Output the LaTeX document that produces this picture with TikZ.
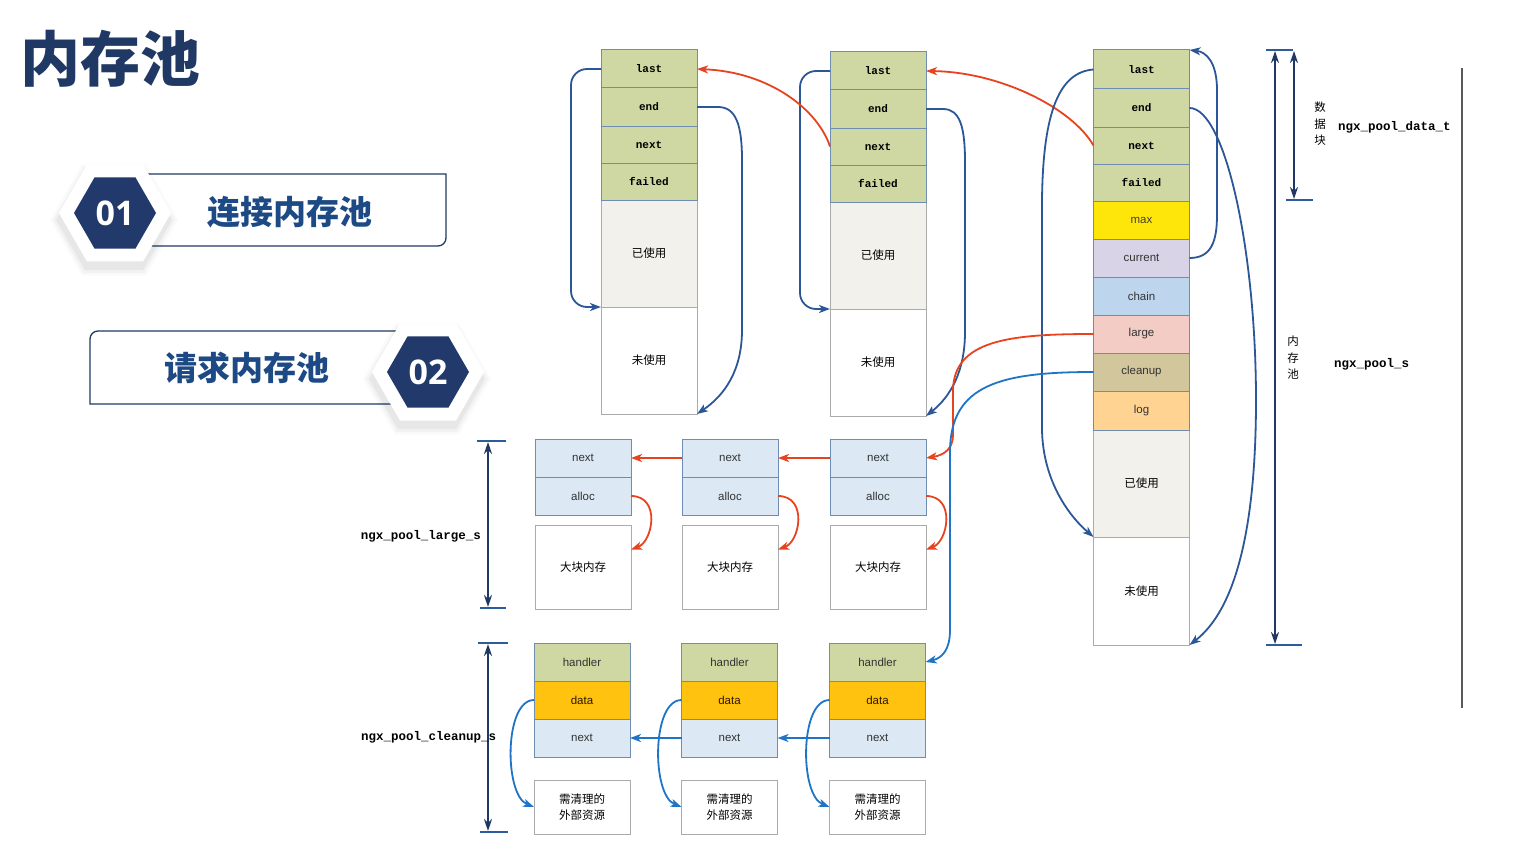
\documentclass[tikz,border=0pt]{standalone}
\usepackage{fontspec}
\setmainfont{Liberation Sans}
\newfontfamily\cjk{Noto Sans CJK SC}
\newfontfamily\monof{Liberation Mono}
\newfontfamily\numf{Open Sans}
\usetikzlibrary{arrows.meta,shapes.geometric}
\definecolor{navy}{HTML}{1F3864}
\definecolor{badgetext}{HTML}{1D4A85}
\definecolor{hexnavy}{HTML}{223A6B}
\definecolor{hdr}{HTML}{CFD8A2}
\definecolor{usedc}{HTML}{F3F1EB}
\definecolor{cellline}{HTML}{6F8DB0}
\definecolor{grayline}{HTML}{ABABAB}
\definecolor{maxc}{HTML}{FFE60A}
\definecolor{curc}{HTML}{D9D3E8}
\definecolor{chainc}{HTML}{BDD6EE}
\definecolor{largec}{HTML}{F3CCC6}
\definecolor{cleanc}{HTML}{D2C79C}
\definecolor{logc}{HTML}{FFD493}
\definecolor{lblue}{HTML}{DCE9F5}
\definecolor{datac}{HTML}{FFC20E}
\definecolor{arrblue}{HTML}{2C5797}
\definecolor{arrred}{HTML}{E8431F}
\definecolor{arrbright}{HTML}{1F74C6}
\definecolor{dimc}{HTML}{1F3864}
\definecolor{tickc}{HTML}{2E5B9A}
\definecolor{txt}{HTML}{333333}
\newcommand\monolbl{\monof\bfseries\fontsize{11}{12}\selectfont}
\newcommand\sanslbl{\fontsize{11.5}{13}\selectfont}
\newcommand\cjklbl{\cjk\fontsize{11.5}{16}\selectfont}
\tikzset{
  basecell/.style={line width=1pt, minimum width=96pt, inner sep=0pt, outer sep=0pt, anchor=north},
  hcell/.style={basecell, draw=cellline, fill=hdr, font=\monolbl},
  scell/.style={basecell, draw=cellline, font=\sanslbl, text=txt},
  ucell/.style={basecell, draw=grayline, fill=usedc, font=\cjklbl},
  fcell/.style={basecell, draw=grayline, fill=white, font=\cjklbl, align=center},
  tip/.style={-{Stealth[length=11pt,width=8pt,inset=3pt]}},
  barrow/.style={arrblue, line width=1.8pt, tip},
  rarrow/.style={arrred, line width=1.8pt, tip},
  carrow/.style={arrbright, line width=1.8pt, tip},
  dimarrow/.style={dimc, line width=2.2pt, {Stealth[length=12pt,width=8pt]}-{Stealth[length=12pt,width=8pt]}},
  tick/.style={tickc, line width=2.2pt},
  dimlbl/.style={font=\monof\bfseries\fontsize{12.5}{13}\selectfont, inner sep=0pt},
  vlbl/.style={font=\cjk\fontsize{11.5}{16.5}\selectfont, align=center, inner sep=0pt},
  hexo/.style={regular polygon, regular polygon sides=6, minimum size=112pt, fill=white, inner sep=0pt, outer sep=0pt},
  hexi/.style={regular polygon, regular polygon sides=6, minimum size=82pt, fill=hexnavy, text=white, inner sep=0pt, outer sep=0pt, font=\numf\bfseries\fontsize{34}{34}\selectfont},
  badgeline/.style={navy, line width=1.3pt},
  badgetxt/.style={text=badgetext, font=\cjk\bfseries\fontsize{33}{33}\selectfont, inner sep=0pt}
}
\begin{document}
\begin{tikzpicture}[x=1pt,y=-1pt]
\fill[white] (0,0) rectangle (1532,859);
\useasboundingbox (0,0) rectangle (1532,859);

% ---------- title ----------
\node[text=navy, font=\cjk\bfseries\fontsize{60}{60}\selectfont, inner sep=0pt] (title) at (110,59) {内存池};

% ---------- badge 01 ----------
\fill[white] (140,174) rectangle (446,246);
\draw[badgeline] (140,174) -- (446,174) -- (446,238) arc[start angle=0,end angle=90,radius=8] -- (140,246);
\node[badgetxt] (b1txt) at (290,212) {连接内存池};
\foreach \r/\o in {64/0.02,61/0.03,58/0.045} {
  \fill[black,opacity=\o] (114,220) +(0:\r) -- +(60:\r) -- +(120:\r) -- +(180:\r) -- +(240:\r) -- +(300:\r) -- cycle;
}
\node[hexo] (hex1o) at (115,213) {};
\node[hexi] (hex1i) at (115,213) {01};

% ---------- badge 02 ----------
\fill[white] (90,331) rectangle (410,404);
\draw[badgeline] (410,331) -- (98,331) arc[start angle=270,end angle=180,radius=8] -- (90,404) -- (410,404);
\node[badgetxt] (b2txt) at (247,368) {请求内存池};
\foreach \r/\o in {64/0.02,61/0.03,58/0.045} {
  \fill[black,opacity=\o] (427,379) +(0:\r) -- +(60:\r) -- +(120:\r) -- +(180:\r) -- +(240:\r) -- +(300:\r) -- cycle;
}
\node[hexo] (hex2o) at (428,372) {};
\node[hexi] (hex2i) at (428,372) {02};

% ---------- block 1 ----------
\node[ucell, minimum height=107pt] (b1used) at (649,200) {已使用};
\node[fcell, minimum height=107pt] (b1free) at (649,307) {未使用};
\node[hcell, minimum height=38pt] (b1last) at (649,50) {last};
\node[hcell, minimum height=38pt] (b1end) at (649,88) {end};
\node[hcell, minimum height=37pt] (b1next) at (649,126) {next};
\node[hcell, minimum height=37pt] (b1failed) at (649,163) {failed};

% ---------- block 2 ----------
\node[ucell, minimum height=107pt] (b2used) at (878,202) {已使用};
\node[fcell, minimum height=107pt] (b2free) at (878,309) {未使用};
\node[hcell, minimum height=38pt] (b2last) at (878,52) {last};
\node[hcell, minimum height=38pt] (b2end) at (878,90) {end};
\node[hcell, minimum height=37pt] (b2next) at (878,128) {next};
\node[hcell, minimum height=37pt] (b2failed) at (878,165) {failed};

% ---------- block 3 ----------
\node[ucell, minimum height=107pt] (b3used) at (1141.5,430) {已使用};
\node[fcell, minimum height=108pt] (b3free) at (1141.5,537) {未使用};
\node[hcell, minimum height=39pt] (b3last) at (1141.5,50) {last};
\node[hcell, minimum height=38pt] (b3end) at (1141.5,89) {end};
\node[hcell, minimum height=37pt] (b3next) at (1141.5,127) {next};
\node[hcell, minimum height=37pt] (b3failed) at (1141.5,164) {failed};
\node[scell, fill=maxc, minimum height=38pt, text=black!75] (b3max) at (1141.5,201) {max};
\node[scell, fill=curc, minimum height=38pt] (b3current) at (1141.5,239) {current};
\node[scell, fill=chainc, minimum height=38pt] (b3chain) at (1141.5,277) {chain};
\node[scell, fill=largec, minimum height=38pt] (b3large) at (1141.5,315) {large};
\node[scell, fill=cleanc, minimum height=38pt] (b3cleanup) at (1141.5,353) {cleanup};
\node[scell, fill=logc, minimum height=39pt] (b3log) at (1141.5,391) {log};

% ---------- large blocks ----------
\foreach \i/\x in {1/583,2/730,3/878} {
  \node[scell, fill=lblue, minimum height=38pt] (L\i next) at (\x,439) {next};
  \node[scell, fill=lblue, minimum height=38pt] (L\i alloc) at (\x,477) {alloc};
  \node[fcell, minimum height=84pt] (L\i box) at (\x,525) {大块内存};
}

% ---------- cleanup blocks ----------
\foreach \i/\x in {1/582,2/729.5,3/877.5} {
  \node[scell, fill=hdr, minimum height=38pt] (C\i handler) at (\x,643) {handler};
  \node[scell, fill=datac, minimum height=38pt, text=black!70!orange!60!black] (C\i data) at (\x,681) {data};
  \node[scell, fill=lblue, minimum height=38pt] (C\i next) at (\x,719) {next};
  \node[fcell, minimum height=54pt] (C\i box) at (\x,780) {需清理的\\外部资源};
}

% ---------- block 1 connectors ----------
\draw[barrow, rounded corners=16pt] (b1last.west) -- (571,69) |- (b1free.north west);
\draw[barrow] (b1end.east) -- (718,107) .. controls (736,107) and (742,125) .. (742,160) -- (742,330) .. controls (742,370) and (725,395) .. (b1free.south east);
% ---------- block 2 connectors ----------
\draw[barrow, rounded corners=16pt] (b2last.west) -- (800,71) |- (b2free.north west);
\draw[barrow] (b2end.east) -- (943,109) .. controls (960,109) and (965,127) .. (965,162) -- (965,332) .. controls (965,372) and (950,397) .. (b2free.south east);
\draw[rarrow] (b2next.west) .. controls (818,110) and (770,72) .. (b1last.east);
% ---------- block 3 connectors ----------
\draw[rarrow] (b3next.west) .. controls (1072,108) and (1000,72) .. (b2last.east);
\draw[barrow] (b3last.west) .. controls (1060,72) and (1043,110) .. (1042,200) -- (1042,430) .. controls (1043,480) and (1068,515) .. (b3free.north west);
\draw[barrow] (b3end.east) .. controls (1225,108) and (1256,250) .. (1256,400) .. controls (1256,530) and (1235,610) .. (b3free.south east);
\draw[barrow] (b3current.east) .. controls (1211,258) and (1217,242) .. (1217,215) -- (1217,90) .. controls (1217,62) and (1206,52) .. (b3last.north east);
\draw[rarrow] (b3large.west) .. controls (1010,334) and (954,340) .. (953,390) -- (953,435) .. controls (953,448) and (945,455) .. (L3next.east);
\draw[carrow] (b3cleanup.west) .. controls (1000,372) and (951,385) .. (950,450) -- (950,630) .. controls (950,650) and (942,658) .. (C3handler.east);

% ---------- large connectors ----------
\draw[rarrow] (L3next.west) -- (L2next.east);
\draw[rarrow] (L2next.west) -- (L1next.east);
\foreach \i in {1,2,3} {
  \draw[rarrow] (L\i alloc.east) .. controls +(30,0) and +(22,-8) .. (L\i box.20);
}
% ---------- cleanup connectors ----------
\draw[carrow] (C3next.west) -- (C2next.east);
\draw[carrow] (C2next.west) -- (C1next.east);
\foreach \i in {1,2,3} {
  \draw[carrow] (C\i data.west) .. controls +(-30,0) and +(-30,-12) .. (C\i box.west);
}

% ---------- dimension marks ----------
\coordinate (lt) at (488,441); \coordinate (lb) at (488,608);
\draw[tick] (477,441) -- (506,441);
\draw[tick] (480,608) -- (506,608);
\draw[dimarrow] ([yshift=-1pt]lt) -- ([yshift=1pt]lb);
\coordinate (ct) at (488,643); \coordinate (cb) at (488,832);
\draw[tick] (478,643) -- (508,643);
\draw[tick] (480,832) -- (508,832);
\draw[dimarrow] ([yshift=-1pt]ct) -- ([yshift=1pt]cb);
\coordinate (pt) at (1275,50); \coordinate (pb) at (1275,645);
\draw[tick] (1266,50) -- (1293,50);
\draw[tick] (1266,645) -- (1302,645);
\draw[dimarrow] ([yshift=-1pt]pt) -- ([yshift=1pt]pb);
\coordinate (dt) at (1294,50); \coordinate (db) at (1294,200);
\draw[tick] (1286,200) -- (1313,200);
\draw[dimarrow] ([yshift=-1pt]dt) -- ([yshift=1pt]db);

\node[dimlbl, anchor=east] (lblL) at (481,536) {ngx\_pool\_large\_s};
\node[dimlbl, anchor=west] (lblC) at (361,737) {ngx\_pool\_cleanup\_s};
\node[dimlbl, anchor=west] (lblD) at (1338,127) {ngx\_pool\_data\_t};
\node[dimlbl, anchor=west] (lblP) at (1334,364) {ngx\_pool\_s};
\node[vlbl] (lblSJK) at (1320,124) {数\\据\\块};
\node[vlbl] (lblNCC) at (1293,358) {内\\存\\池};

\draw[black!65, line width=2.2pt] (1462,68) -- (1462,708);
\end{tikzpicture}
\end{document}
